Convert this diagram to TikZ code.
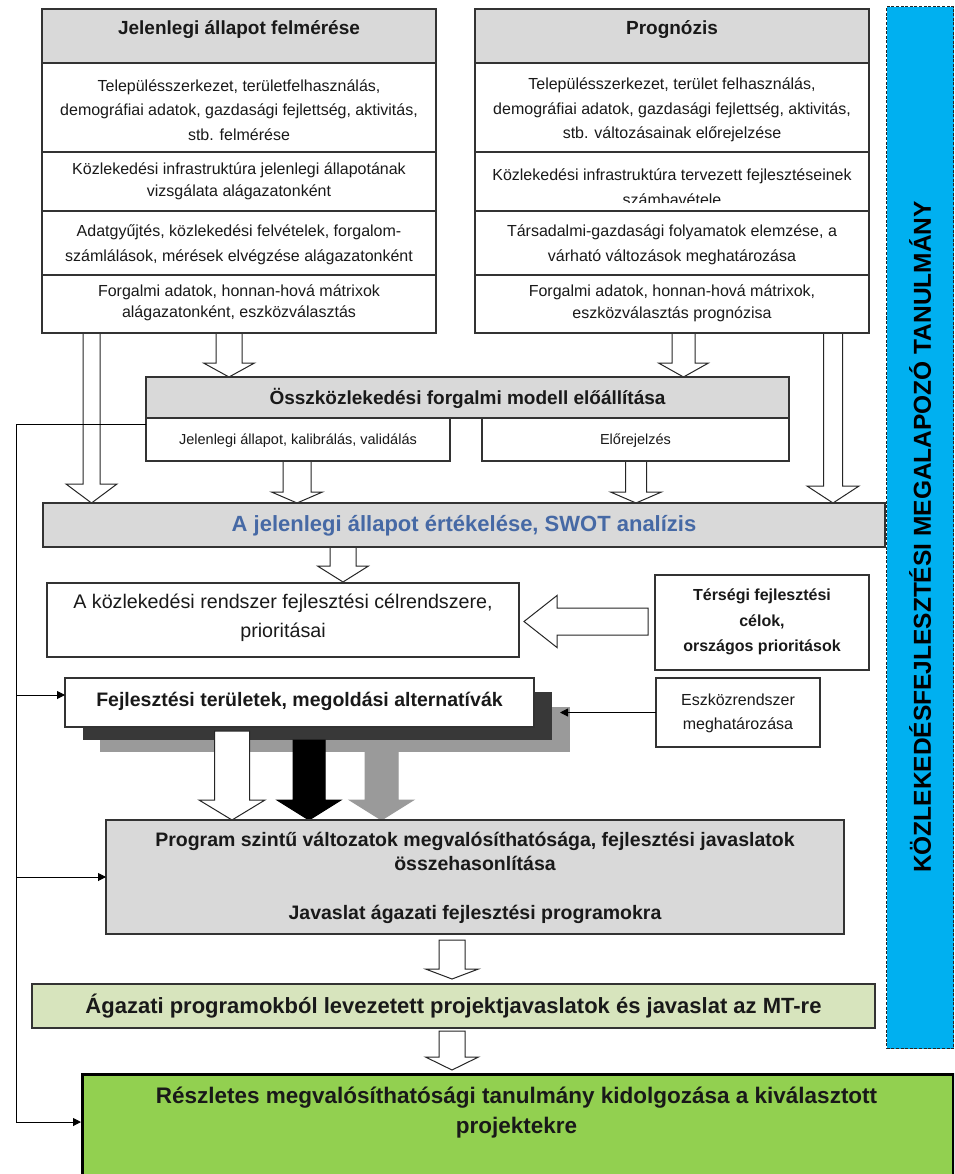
\documentclass[tikz,border=0pt]{standalone}
\usepackage{fontspec}
\setmainfont{Liberation Sans}
\usetikzlibrary{arrows.meta,calc}
\definecolor{boxgray}{HTML}{D9D9D9}
\definecolor{swotblue}{RGB}{70,105,165}
\definecolor{skyblue}{HTML}{00B0F0}
\definecolor{palegreen}{HTML}{D7E4BD}
\definecolor{leafgreen}{HTML}{92D050}
\definecolor{shadowdark}{HTML}{383838}
\definecolor{shadowgray}{HTML}{9A9A9A}
\newcommand\fs[2]{\fontsize{#1}{#2}\selectfont}
% rectangle node by corners
\newcommand\rbox[6]{\node[#6, anchor=north west, minimum width={#4-#2}, minimum height={#5-#3}] (#1) at (#2,#3) {};}
% fat downward arrow
\newcommand\fatdown[8][]{%
  \coordinate (#2s) at (#3,#4); \coordinate (#2e) at (#3,#5);
  \draw[fatarrow,#1] (#3-#6,#4) -- (#3-#6,#5-#8) -- (#3-#7,#5-#8) -- (#2e) -- (#3+#7,#5-#8) -- (#3+#6,#5-#8) -- (#3+#6,#4) -- cycle;}
\begin{document}
\begin{tikzpicture}[x=1pt,y=-1pt,
  box/.style={draw=black!80, line width=1.4pt, inner sep=0pt, outer sep=0pt},
  graybox/.style={box, fill=boxgray},
  whitebox/.style={box, fill=white},
  txt/.style={inner sep=0pt, align=center, text=black!90},
  body/.style={txt, font=\fs{16}{24}},
  head/.style={txt, font=\bfseries\fs{19}{24}},
  fatarrow/.style={draw=black!85, fill=white, line width=1pt, line join=miter},
  thin/.style={draw=black, line width=1pt},
  tip/.style={-{Triangle[length=8pt,width=8pt]}}
]
\useasboundingbox (0,0) rectangle (954,1174);
\clip (0,0) rectangle (954,1174);
\fill[white] (0,0) rectangle (954,1174);

% ---------- fat arrows (drawn beneath boxes) ----------
\fatdown{a1}{91.5}{333}{503}{8.5}{25.5}{19}
\fatdown{a2}{229}{333}{377}{13}{25.5}{14}
\fatdown{a3}{683.5}{333}{377}{11.5}{25}{14}
\fatdown{a4}{833}{333}{503}{9.5}{26}{17}
\fatdown{a5}{297}{461}{503}{14}{25.5}{11}
\fatdown{a6}{636}{461}{503}{10.5}{25.5}{11}
\fatdown{a7}{343}{547}{582}{13}{25.5}{16}
\fatdown{a11}{452}{940}{979}{13}{26.5}{10}
\fatdown{a12}{452}{1031}{1070}{13}{26.5}{13}

% ---------- blue vertical study box ----------
\rbox{B}{886}{6}{953}{1048}{draw=black!85, line width=1.4pt, dash pattern=on 3pt off 1.6pt, fill=skyblue}
\node[rotate=90, inner sep=0pt, font=\bfseries\fs{24.5}{28}] (Bt) at (920,537) {KÖZLEKEDÉSFEJLESZTÉSI MEGALAPOZÓ TANULMÁNY};

% ---------- left top block ----------
\rbox{LH}{42}{9}{436}{63}{graybox}
\rbox{L1}{42}{63}{436}{152}{whitebox}
\rbox{L2}{42}{152}{436}{211}{whitebox}
\rbox{L3}{42}{211}{436}{275}{whitebox}
\rbox{L4}{42}{275}{436}{333}{whitebox}
\node[head] (LHt) at (239,29.5) {Jelenlegi állapot felmérése};
\node[body, font=\fs{16}{24.5}] (L1t) at (239,110) {Településszerkezet, területfelhasználás,\\demográfiai adatok, gazdasági fejlettség, aktivitás,\\stb. felmérése};
\node[body, font=\fs{16}{22}] (L2t) at (239,181.5) {Közlekedési infrastruktúra jelenlegi állapotának\\vizsgálata alágazatonként};
\node[body, font=\fs{16}{25}] (L3t) at (239,244.5) {Adatgyűjtés, közlekedési felvételek, forgalom-\\számlálások, mérések elvégzése alágazatonként};
\node[body, font=\fs{16}{21}] (L4t) at (239,303) {Forgalmi adatok, honnan-hová mátrixok\\alágazatonként, eszközválasztás};

% ---------- right top block ----------
\rbox{RH}{475}{9}{869}{63}{graybox}
\rbox{R1}{475}{63}{869}{152}{whitebox}
\rbox{R2}{475}{152}{869}{211}{whitebox}
\rbox{R3}{475}{211}{869}{275}{whitebox}
\rbox{R4}{475}{275}{869}{333}{whitebox}
\node[head] (RHt) at (672,29.5) {Prognózis};
\node[body, font=\fs{16}{24.5}] (R1t) at (672,110) {Településszerkezet, terület felhasználás,\\demográfiai adatok, gazdasági fejlettség, aktivitás,\\stb. változásainak előrejelzése};
\node[body, font=\fs{16}{25}] (R2t) at (672,187) {Közlekedési infrastruktúra tervezett fejlesztéseinek\\számbavétele};
\fill[white] (477,203.5) rectangle (867,210.3);
\node[body, font=\fs{16}{25}] (R3t) at (672,244.5) {Társadalmi-gazdasági folyamatok elemzése, a\\várható változások meghatározása};
\node[body, font=\fs{16}{22}] (R4t) at (672,303) {Forgalmi adatok, honnan-hová mátrixok,\\eszközválasztás prognózisa};

% ---------- traffic model ----------
\rbox{MH}{146}{377}{789}{418}{graybox}
\rbox{MS1}{146}{418}{450}{461}{whitebox}
\rbox{MS2}{482}{418}{789}{461}{whitebox}
\node[head] (MHt) at (467.5,398) {Összközlekedési forgalmi modell előállítása};
\node[txt, font=\fs{14.5}{18}] (MS1t) at (298,441) {Jelenlegi állapot, kalibrálás, validálás};
\node[txt, font=\fs{14.5}{18}] (MS2t) at (635.5,441) {Előrejelzés};

% ---------- SWOT ----------
\rbox{S}{43}{503}{885}{547}{graybox}
\node[txt, text=swotblue, font=\bfseries\fs{22}{26}] (St) at (464,526) {A jelenlegi állapot értékelése, SWOT analízis};

% ---------- goals ----------
\rbox{C}{47}{583}{519}{657}{whitebox}
\node[txt, font=\fs{19.7}{29}] (Ct) at (283,618) {A közlekedési rendszer fejlesztési célrendszere,\\prioritásai};
\rbox{T}{655}{575}{869}{670}{whitebox}
\node[txt, font=\bfseries\fs{16}{25.5}] (Tt) at (762,622) {Térségi fejlesztési\\célok,\\országos prioritások};
\coordinate (a8s) at (648,621.5);
\coordinate (a8e) at (524,621.5);
\draw[fatarrow] (a8s) ++(0,-13.5) -- (557,608) -- (557,595.5) -- (a8e) -- (557,647.5) -- (557,635) -- (648,635) -- cycle;

% ---------- alternatives ----------
\rbox{SH2}{100}{707}{570}{752}{fill=shadowgray, inner sep=0pt}
\rbox{SH1}{83}{692}{552}{740}{fill=shadowdark, inner sep=0pt}
\rbox{F}{65}{678}{534}{727}{whitebox}
\node[txt, font=\bfseries\fs{19.5}{24}] (Ft) at (299.5,701) {Fejlesztési területek, megoldási alternatívák};
\rbox{E}{656}{678}{820}{747}{whitebox}
\node[txt, font=\fs{16}{24}] (Et) at (738,713) {Eszközrendszer\\meghatározása};
\coordinate (esztip) at (560,712.5);
\draw[thin, tip] (E.west) -- (esztip);

\fatdown{a9}{232}{731}{820}{17.5}{33}{20}
\fatdown[fill=black, draw=black]{a10}{309}{740}{820}{16}{32}{20}
\fatdown[fill=shadowgray, draw=shadowgray]{a13}{381.5}{752}{820}{16.5}{32}{20}

% ---------- programme ----------
\rbox{P}{106}{820}{844}{934}{graybox}
\node[txt, font=\bfseries\fs{19.5}{24}] (Pt1) at (475,851) {Program szintű változatok megvalósíthatósága, fejlesztési javaslatok\\összehasonlítása};
\node[txt, font=\bfseries\fs{19.5}{24}] (Pt2) at (475,914) {Javaslat ágazati fejlesztési programokra};

\rbox{A}{32}{984}{875}{1028}{box, fill=palegreen}
\node[txt, font=\bfseries\fs{22}{26}] (At) at (453.5,1006) {Ágazati programokból levezetett projektjavaslatok és javaslat az MT-re};

\rbox{G}{81}{1073}{952}{1190}{draw=black, line width=2.6pt, fill=leafgreen, inner sep=0pt}
\node[txt, font=\bfseries\fs{22.5}{30}] (Gt) at (516.5,1113) {Részletes megvalósíthatósági tanulmány kidolgozása a kiválasztott\\projektekre};

% ---------- feedback line ----------
\coordinate (fb0) at (16,424);
\coordinate (fbF) at (16,695);
\coordinate (fb1) at (16,1122);
\draw[thin] (MS1.west |- fb0) -- (fb0) -- (fb1);
\draw[thin, tip] (fbF) -- (F.west |- fbF);
\draw[thin, tip] (fb0 |- P.west) -- (P.west);
\draw[thin, tip] (fb1) -- (G.west |- fb1);
\end{tikzpicture}
\end{document}
